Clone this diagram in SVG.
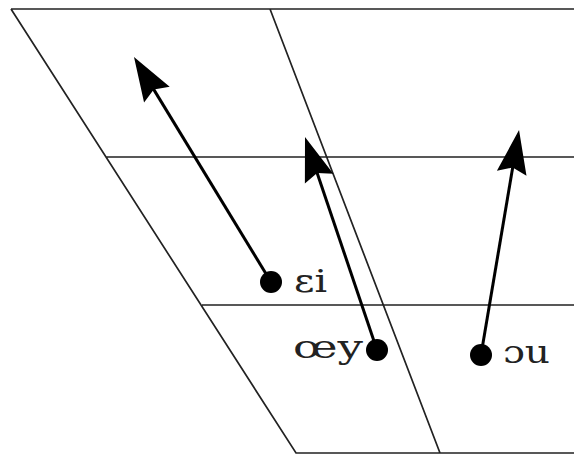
<svg xmlns="http://www.w3.org/2000/svg" width="574" height="455" viewBox="0 0 574 455">
<style>
.frame{fill:none;stroke:#222;stroke-width:1.7}
.arr{fill:none;stroke:#000;stroke-width:3;marker-end:url(#head)}
.dot{fill:#000}
.lbl{font-family:"DejaVu Serif","Liberation Serif",serif;font-size:32px;fill:#222}
</style>
<defs>
<marker id="head" markerUnits="userSpaceOnUse" orient="auto" refX="0" refY="0" markerWidth="60" markerHeight="60" viewBox="-30 -30 60 60" overflow="visible">
<path d="M20,0 L-24,-15 L-18,0 L-24,15 Z" fill="#000"/>
</marker>
</defs>
<g id="chart">
<path class="frame" d="M11,9 H574 M11,9 L296,453 H574 M270,9 L440,453 M106,157 H574 M202,305 H574"/>
</g>
<g id="connectors">
<line class="arr" x1="271" y1="282" x2="144.4" y2="74.1"/>
<line class="arr" x1="377" y1="350" x2="311.4" y2="155.9"/>
<line class="arr" x1="481" y1="355" x2="515.7" y2="149.7"/>
</g>
<g id="node-ei">
<circle class="dot" cx="271" cy="282" r="11"/>
<text class="lbl" x="294" y="292" textLength="33" lengthAdjust="spacingAndGlyphs">εi</text>
</g>
<g id="node-oey">
<circle class="dot" cx="377" cy="350" r="11"/>
<text class="lbl" x="293" y="358" textLength="70" lengthAdjust="spacingAndGlyphs">œy</text>
</g>
<g id="node-ou">
<circle class="dot" cx="481" cy="355" r="11"/>
<text class="lbl" x="503" y="363" textLength="47" lengthAdjust="spacingAndGlyphs">ɔu</text>
</g>
</svg>
